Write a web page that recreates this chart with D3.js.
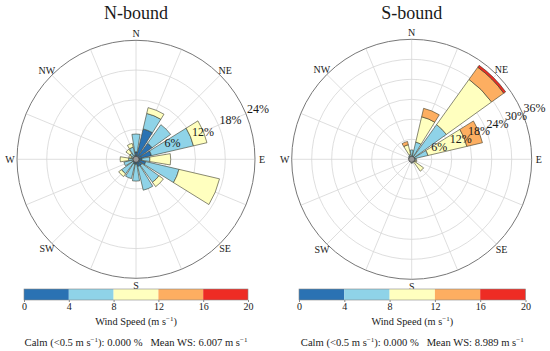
<!DOCTYPE html>
<html>
<head>
<meta charset="utf-8">
<script src="https://cdn.jsdelivr.net/npm/d3@7/dist/d3.min.js"></script>
<style>
  html, body { margin: 0; padding: 0; background: #fff; }
  svg { display: block; font-family: "Liberation Serif", "Times New Roman", serif; }
</style>
</head>
<body>
<svg id="chart" width="550" height="351"></svg>
<script>
// ---------------- DATA ----------------
const directions = ["N","NNE","NE","ENE","E","ESE","SE","SSE","S","SSW","SW","WSW","W","WNW","NW","NNW"];
const compassLabels = ["N","NE","E","SE","S","SW","W","NW"];
const speedBins = ["0-4","4-8","8-12","12-16","16-20"];
const speedTicks = [0, 4, 8, 12, 16, 20];
const binColors = ["#2a72b3", "#8fd3e8", "#ffffbf", "#fdae61", "#ee2c24"];

// N-bound frequencies (%) per speed bin, per direction
const nb_0_4   = [1.5, 6.3, 4.0, 3.2, 1.2, 2.0, 1.5, 1.5, 1.0, 1.0, 0.8, 0.5, 0.5, 0.4, 0.5, 0.8];
const nb_4_8   = [3.6, 3.2, 4.6, 8.7, 1.6, 6.9, 4.2, 4.9, 3.4, 3.0, 2.8, 2.0, 1.0, 0.6, 1.0, 1.7];
const nb_8_12  = [0.0, 1.2, 0.0, 2.8, 4.2, 8.4, 1.1, 0.0, 0.0, 0.0, 0.7, 0.0, 1.7, 0.5, 1.0, 0.8];
const nb_12_16 = [0,0,0,0,0,0,0,0,0,0,0,0,0,0,0,0];
const nb_16_20 = [0,0,0,0,0,0,0,0,0,0,0,0,0,0,0,0];
const nbRingTicks = [6, 12, 18, 24];
const nbTitle = "N-bound";
const nbMean = "6.007";

// S-bound frequencies (%) per speed bin, per direction
const sb_0_4   = [0.8, 1.0, 1.0, 1.0, 0.6, 0.5, 0.5, 0.5, 0.6, 0.4, 0.4, 0.4, 0.4, 0.5, 0.6, 0.5];
const sb_4_8   = [2.0, 4.3, 11.8, 4.0, 0.8, 0.6, 0.6, 0.4, 0.6, 0.4, 0.4, 0.4, 0.4, 0.5, 0.6, 1.0];
const sb_8_12  = [0.0, 7.8, 16.7, 12.0, 0.0, 0.5, 3.3, 0.0, 0.0, 0.0, 0.0, 0.0, 0.0, 0.0, 0.0, 3.0];
const sb_12_16 = [0.0, 2.6, 4.5, 4.8, 0.0, 0.0, 0.0, 0.0, 0.0, 0.0, 0.0, 0.0, 0.0, 0.0, 0.0, 1.0];
const sb_16_20 = [0.0, 0.0, 0.7, 0.0, 0.0, 0.0, 0.0, 0.0, 0.0, 0.0, 0.0, 0.0, 0.0, 0.0, 0.0, 0.0];
const sbRingTicks = [6, 12, 18, 24, 30, 36];
const sbTitle = "S-bound";
const sbMean = "8.989";

// ---------------- DRAW ----------------
const svg = d3.select("#chart");
const textColor = "#1a1a1a";

function buildRows(bins) {
  return directions.map((d, i) => {
    const row = { dir: d };
    speedBins.forEach((b, k) => row[b] = bins[k][i]);
    return row;
  });
}

function windRose(opts) {
  const g = svg.append("g").attr("transform", `translate(${opts.cx},${opts.cy})`);
  const R = opts.radius;
  const maxTick = d3.max(opts.ringTicks);
  const r = d3.scaleLinear().domain([0, maxTick]).range([0, R]);
  const angle = d3.scaleBand().domain(directions)
    .range([-Math.PI / 16, 2 * Math.PI - Math.PI / 16])
    .paddingInner(0.17).paddingOuter(0.085);
  const center = d => angle(d) + angle.bandwidth() / 2;

  // grid rings
  g.selectAll(".ring").data(opts.ringTicks.slice(0, -1)).join("circle")
    .attr("r", d => r(d)).attr("fill", "none")
    .attr("stroke", "#d6d6d6").attr("stroke-width", 0.8);
  // spokes
  g.selectAll(".spoke").data(directions).join("line")
    .attr("x1", 0).attr("y1", 0)
    .attr("x2", d => R * Math.sin(center(d)))
    .attr("y2", d => -R * Math.cos(center(d)))
    .attr("stroke", "#d6d6d6").attr("stroke-width", 0.8);

  // bars
  const rows = buildRows(opts.bins);
  const stacked = d3.stack().keys(speedBins)(rows);
  const arc = d3.arc()
    .innerRadius(d => r(d[0]))
    .outerRadius(d => r(d[1]))
    .startAngle(d => angle(d.data.dir))
    .endAngle(d => angle(d.data.dir) + angle.bandwidth());
  stacked.forEach((layer, k) => {
    g.append("g").selectAll("path")
      .data(layer.filter(d => d[1] - d[0] > 0))
      .join("path")
      .attr("d", arc)
      .attr("fill", binColors[k])
      .attr("stroke", "#3a3a2a")
      .attr("stroke-width", 0.6);
  });

  // centre disc
  g.append("circle").attr("r", 3).attr("fill", "#999").attr("stroke", "#444").attr("stroke-width", 0.7);

  // outer circle
  g.append("circle").attr("r", R).attr("fill", "none").attr("stroke", "#777").attr("stroke-width", 1);

  // ring labels along ENE
  const la = 67.5 * Math.PI / 180;
  g.selectAll(".rl").data(opts.ringTicks).join("text")
    .attr("x", d => r(d) * Math.sin(la) + 1)
    .attr("y", d => -r(d) * Math.cos(la) - 1)
    .attr("font-size", 12).attr("fill", textColor)
    .text(d => d + "%");

  // compass labels
  const compassAngle = d3.scaleOrdinal().domain(compassLabels).range(d3.range(8).map(i => i * Math.PI / 4));
  g.selectAll(".cl").data(compassLabels).join("text")
    .attr("x", d => opts.labelR * Math.sin(compassAngle(d)))
    .attr("y", d => -opts.labelR * Math.cos(compassAngle(d)))
    .attr("text-anchor", "middle").attr("dominant-baseline", "central")
    .attr("font-size", 10).attr("fill", textColor)
    .text(d => d);

  // title
  svg.append("text").attr("x", opts.cx).attr("y", 19)
    .attr("text-anchor", "middle").attr("font-size", 18).attr("fill", textColor)
    .text(opts.title);

  // colour bar
  const cb = d3.scaleLinear().domain([0, 20]).range([opts.cbX0, opts.cbX1]);
  const cbY = 289, cbH = 11;
  const cg = svg.append("g");
  cg.selectAll("rect").data(speedBins).join("rect")
    .attr("x", (d, i) => cb(speedTicks[i]))
    .attr("y", cbY)
    .attr("width", (d, i) => cb(speedTicks[i + 1]) - cb(speedTicks[i]))
    .attr("height", cbH)
    .attr("fill", (d, i) => binColors[i]);
  cg.append("rect").attr("x", cb(0)).attr("y", cbY).attr("width", cb(20) - cb(0)).attr("height", cbH)
    .attr("fill", "none").attr("stroke", "#888").attr("stroke-width", 0.6);
  const ax = cg.append("g").attr("transform", `translate(0,${cbY + cbH})`)
    .call(d3.axisBottom(cb).tickValues(speedTicks).tickSize(2).tickPadding(1).tickFormat(d3.format("d")));
  ax.attr("font-family", null);
  ax.select(".domain").remove();
  ax.selectAll("line").attr("stroke", "#888");
  ax.selectAll("text").attr("font-size", 10).attr("fill", textColor);

  const mid = (opts.cbX0 + opts.cbX1) / 2;
  const t1 = svg.append("text").attr("x", mid).attr("y", 325).attr("text-anchor", "middle")
    .attr("font-size", 10.3).attr("fill", textColor);
  t1.append("tspan").text("Wind Speed (m s");
  t1.append("tspan").attr("dy", -4).attr("font-size", 7).text("−1");
  t1.append("tspan").attr("dy", 4).text(")");

  const t2 = svg.append("text").attr("x", mid).attr("y", 346).attr("text-anchor", "middle")
    .attr("font-size", 10.6).attr("fill", textColor).attr("xml:space", "preserve");
  t2.append("tspan").text("Calm (<0.5 m s");
  t2.append("tspan").attr("dy", -4).attr("font-size", 7).text("−1");
  t2.append("tspan").attr("dy", 4).text("): 0.000 %   Mean WS: " + opts.mean + " m s");
  t2.append("tspan").attr("dy", -4).attr("font-size", 7).text("−1");
}

windRose({
  cx: 136, cy: 159.3, radius: 119, labelR: 126,
  ringTicks: nbRingTicks, title: nbTitle, mean: nbMean,
  bins: [nb_0_4, nb_4_8, nb_8_12, nb_12_16, nb_16_20],
  cbX0: 24, cbX1: 248
});
windRose({
  cx: 411.7, cy: 159.3, radius: 120, labelR: 127,
  ringTicks: sbRingTicks, title: sbTitle, mean: sbMean,
  bins: [sb_0_4, sb_4_8, sb_8_12, sb_12_16, sb_16_20],
  cbX0: 299, cbX1: 525.5
});
</script>
</body>
</html>
